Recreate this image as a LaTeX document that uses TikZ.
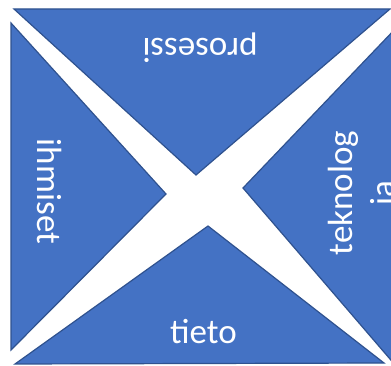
\documentclass[tikz,border=0pt]{standalone}
\usepackage{fontspec}
\setmainfont{Carlito}
\definecolor{tfill}{HTML}{4472C4}
\definecolor{tline}{HTML}{2F528F}
\tikzset{
  tri/.style={fill=tfill, draw=tline, line width=1.2bp, line join=miter},
  lbl/.style={text=white, inner sep=0pt, anchor=base, font=\fontsize{35bp}{42bp}\selectfont}
}
\begin{document}
\begin{tikzpicture}[x=1bp,y=1bp]
\useasboundingbox (0,0) rectangle (391,366);
\clip (0,0) rectangle (391,366);
% triangles
\draw[tri] (14,357) coordinate (t1) -- (390,357) coordinate (t2) -- (196,191) coordinate (t3) -- cycle;
\draw[tri] (11,343) coordinate (l1) -- (11,16) coordinate (l2) -- (166,172) coordinate (l3) -- cycle;
\draw[tri] (15,2) coordinate (b1) -- (384,3) coordinate (b2) -- (208,140) coordinate (b3) -- cycle;
\draw[tri] (398,340) coordinate (r1) -- (243,178) coordinate (r3) -- (396,0) coordinate (r2) -- cycle;
% labels
\node[lbl, rotate=180] (prosessi) at (200,327) {prosessi};
\node[lbl] (tieto) at (203.5,23) {tieto};
\node[lbl, rotate=-90] (ihmiset) at (37,174.5) {ihmiset};
\node[lbl, rotate=90] (tek1) at (352,173) {teknolog};
\node[lbl, rotate=90] (tek2) at (394,173) {ia};
\end{tikzpicture}
\end{document}
